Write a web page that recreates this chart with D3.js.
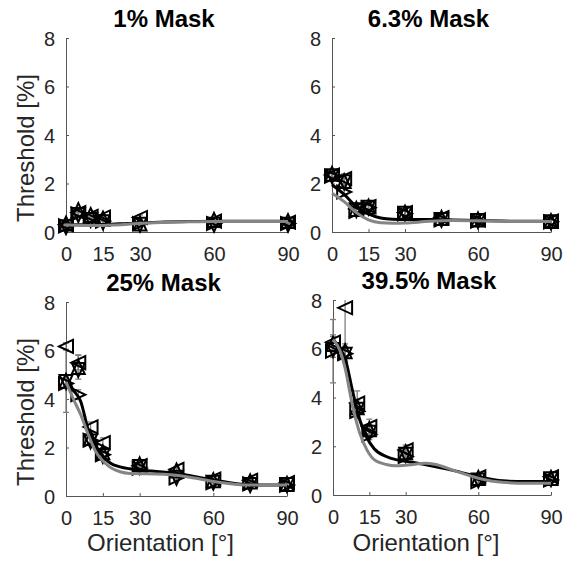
<!DOCTYPE html>
<html><head><meta charset="utf-8">
<script src="https://cdn.jsdelivr.net/npm/d3@7"></script>
<style>
body{margin:0;background:#fff}
text{font-family:"Liberation Sans",Arial,Helvetica,sans-serif}
</style>
</head><body>
<svg id="c" width="563" height="563"></svg>
<script>
// ---------- data ----------
const titles = ["1% Mask", "6.3% Mask", "25% Mask", "39.5% Mask"];
const xTicks = [0, 15, 30, 60, 90];
const yTicks = [0, 2, 4, 6, 8];
const markerTypes = ["left", "right", "up", "down"];

// Panel 1: 1% mask  (rows = observers: left, right, up, down triangles)
const orient1 = [0, 5, 10, 15, 30, 60, 90];
const thr1 = [
  [0.30, 0.80, 0.65, 0.62, 0.60, 0.45, 0.40],
  [0.25, 0.75, 0.55, 0.45, 0.35, 0.35, 0.35],
  [0.35, 0.90, 0.70, 0.55, 0.35, 0.50, 0.45],
  [0.20, 0.70, 0.50, 0.40, 0.30, 0.30, 0.30]
];
const err1 = [
  [0.10, 0.10, 0.10, 0.10, 0.10, 0.10, 0.10],
  [0.10, 0.10, 0.10, 0.10, 0.10, 0.10, 0.10],
  [0.10, 0.10, 0.10, 0.10, 0.10, 0.10, 0.10],
  [0.10, 0.10, 0.10, 0.10, 0.10, 0.10, 0.10]
];
const fitX1 = [0, 5, 10, 15, 20, 25, 30, 40, 50, 60, 70, 80, 90];
const fitBlack1 = [0.30, 0.30, 0.30, 0.31, 0.33, 0.35, 0.38, 0.41, 0.43, 0.44, 0.44, 0.44, 0.44];
const fitGray1 = [0.30, 0.28, 0.27, 0.27, 0.29, 0.32, 0.36, 0.40, 0.42, 0.43, 0.43, 0.43, 0.43];

// Panel 2: 6.3% mask
const orient2 = [0, 5, 10, 15, 30, 45, 60, 90];
const thr2 = [
  [2.35, 2.20, 0.95, 1.05, 0.80, 0.60, 0.50, 0.45],
  [2.30, 1.65, 0.85, 1.00, 0.75, 0.50, 0.45, 0.42],
  [2.40, 2.10, 0.95, 1.05, 0.80, 0.58, 0.52, 0.45],
  [2.30, 2.05, 0.90, 1.00, 0.75, 0.50, 0.45, 0.40]
];
const err2 = [
  [0.15, 0.20, 0.15, 0.10, 0.10, 0.10, 0.10, 0.10],
  [0.15, 0.15, 0.10, 0.10, 0.10, 0.10, 0.10, 0.10],
  [0.10, 0.15, 0.10, 0.10, 0.10, 0.10, 0.10, 0.10],
  [0.10, 0.15, 0.10, 0.10, 0.10, 0.10, 0.10, 0.10]
];
const fitX2 = [0, 5, 10, 15, 20, 25, 30, 40, 50, 60, 70, 80, 90];
const fitBlack2 = [1.95, 1.55, 1.05, 0.75, 0.58, 0.53, 0.52, 0.52, 0.50, 0.47, 0.45, 0.44, 0.44];
const fitGray2 = [1.60, 1.25, 0.80, 0.50, 0.38, 0.36, 0.37, 0.44, 0.47, 0.46, 0.44, 0.43, 0.43];

// Panel 3: 25% mask
const orient3 = [0, 5, 10, 15, 30, 45, 60, 75, 90];
const thr3 = [
  [6.17, 5.50, 2.85, 2.20, 1.25, 1.10, 0.70, 0.65, 0.55],
  [4.64, 4.18, 2.30, 1.70, 1.15, 0.75, 0.55, 0.50, 0.45],
  [4.75, 5.32, 2.40, 1.80, 1.30, 1.05, 0.65, 0.60, 0.50],
  [4.70, 5.20, 2.25, 1.65, 1.20, 0.75, 0.55, 0.45, 0.45]
];
const err3 = [
  [0.15, 0.30, 0.20, 0.20, 0.10, 0.10, 0.10, 0.10, 0.10],
  [0.20, 0.20, 0.20, 0.15, 0.10, 0.10, 0.10, 0.10, 0.10],
  [1.30, 0.50, 0.20, 0.15, 0.10, 0.10, 0.10, 0.10, 0.10],
  [0.20, 0.20, 0.15, 0.15, 0.10, 0.10, 0.10, 0.10, 0.10]
];
const fitX3 = [0, 3, 6, 9, 12, 15, 18, 22, 26, 30, 45, 60, 75, 90];
const fitBlack3 = [4.64, 4.35, 3.90, 2.75, 2.10, 1.65, 1.36, 1.20, 1.12, 1.07, 0.93, 0.66, 0.46, 0.45];
const fitGray3 = [4.70, 4.00, 3.35, 2.55, 1.85, 1.45, 1.18, 1.00, 0.93, 0.92, 0.86, 0.60, 0.45, 0.45];

// Panel 4: 39.5% mask
const orient4 = [0, 5, 10, 15, 30, 60, 90];
const thr4 = [
  [6.27, 7.68, 3.77, 2.81, 1.85, 0.75, 0.75],
  [5.90, 5.80, 3.43, 2.47, 1.58, 0.55, 0.62],
  [6.20, 5.90, 3.60, 2.70, 1.75, 0.70, 0.70],
  [5.95, 5.75, 3.50, 2.55, 1.65, 0.60, 0.65]
];
const err4 = [
  [0.30, 2.00, 0.50, 0.30, 0.20, 0.10, 0.10],
  [1.30, 0.30, 0.30, 0.20, 0.15, 0.10, 0.10],
  [0.30, 0.30, 0.30, 0.20, 0.15, 0.10, 0.10],
  [0.30, 0.30, 0.30, 0.20, 0.15, 0.10, 0.10]
];
const fitX4 = [0, 3, 5, 8, 11, 14, 17, 22, 26, 31, 38, 42, 50, 60, 70, 80, 90];
const fitBlack4 = [6.38, 6.00, 5.60, 4.30, 3.10, 2.35, 1.90, 1.58, 1.45, 1.37, 1.25, 1.17, 1.00, 0.75, 0.58, 0.55, 0.55];
const fitGray4 = [6.38, 5.90, 5.20, 3.70, 2.55, 1.85, 1.45, 1.25, 1.20, 1.23, 1.30, 1.26, 1.00, 0.69, 0.52, 0.48, 0.48];

// ---------- layout ----------
const panels = [
  {t: titles[0], o: orient1, v: thr1, e: err1, fx: fitX1, fb: fitBlack1, fg: fitGray1,
   x0: 66, x1: 288, y0: 232, y1: 38, ylab: true, xlab: false},
  {t: titles[1], o: orient2, v: thr2, e: err2, fx: fitX2, fb: fitBlack2, fg: fitGray2,
   x0: 332, x1: 551, y0: 232, y1: 38, ylab: false, xlab: false},
  {t: titles[2], o: orient3, v: thr3, e: err3, fx: fitX3, fb: fitBlack3, fg: fitGray3,
   x0: 66, x1: 287, y0: 496, y1: 302, ylab: true, xlab: true},
  {t: titles[3], o: orient4, v: thr4, e: err4, fx: fitX4, fb: fitBlack4, fg: fitGray4,
   x0: 333, x1: 551, y0: 495, y1: 300, ylab: false, xlab: true}
];

const svg = d3.select("#c");
const AX = "#555";
const TXT = "#262626";

function triPath(type) {
  const a = 7, b = 6.5;
  switch (type) {
    case "left":  return `M${-a},0L${a},${-b}L${a},${b}Z`;
    case "right": return `M${a},0L${-a},${-b}L${-a},${b}Z`;
    case "up":    return `M0,${-a}L${b},${a}L${-b},${a}Z`;
    default:      return `M0,${a}L${b},${-a}L${-b},${-a}Z`;
  }
}

panels.forEach((p, i) => {
  const x = d3.scaleLinear().domain([0, 90]).range([p.x0, p.x1]);
  const y = d3.scaleLinear().domain([0, 8]).range([p.y0, p.y1]);
  const g = svg.append("g");

  const clipId = "clip" + i;
  svg.append("clipPath").attr("id", clipId).append("rect")
    .attr("x", p.x0 - 20).attr("y", p.y1).attr("width", p.x1 - p.x0 + 40).attr("height", p.y0 - p.y1 + 20);

  // axes
  const xAxis = d3.axisBottom(x).tickValues(xTicks).tickSizeInner(-3).tickSizeOuter(0).tickPadding(10);
  const yAxis = d3.axisLeft(y).tickValues(yTicks).tickSizeInner(-3).tickSizeOuter(0).tickPadding(11);
  const gx = g.append("g").attr("transform", `translate(0,${p.y0})`).call(xAxis);
  const gy = g.append("g").attr("transform", `translate(${p.x0},0)`).call(yAxis);
  [gx, gy].forEach(a => {
    a.select(".domain").attr("stroke", AX).attr("stroke-width", 1);
    a.selectAll(".tick line").attr("stroke", AX);
    a.selectAll(".tick text").attr("fill", TXT).attr("font-size", 20).attr("font-family", null);
  });
  gx.selectAll(".tick text").attr("dy", "0.95em");
  gy.selectAll(".tick text").attr("dy", "0.36em");

  const plot = g.append("g").attr("clip-path", `url(#${clipId})`);

  // error bars
  p.v.forEach((row, k) => {
    row.forEach((val, j) => {
      const er = p.e[k][j];
      const xx = x(p.o[j]);
      plot.append("line").attr("x1", xx).attr("x2", xx)
        .attr("y1", y(val - er)).attr("y2", y(val + er))
        .attr("stroke", "#7f7f7f").attr("stroke-width", 1.3);
      [val - er, val + er].forEach(v => {
        plot.append("line").attr("x1", xx - 3).attr("x2", xx + 3)
          .attr("y1", y(v)).attr("y2", y(v))
          .attr("stroke", "#7f7f7f").attr("stroke-width", 1.3);
      });
    });
  });

  // markers
  p.v.forEach((row, k) => {
    plot.selectAll(null).data(row).enter().append("path")
      .attr("d", triPath(markerTypes[k]))
      .attr("transform", (d, j) => `translate(${x(p.o[j])},${y(d)})`)
      .attr("fill", "none").attr("stroke", "#000").attr("stroke-width", 2)
      .attr("stroke-linejoin", "miter");
  });

  // fits
  const line = d3.line().x((d, j) => x(p.fx[j])).y(d => y(d)).curve(d3.curveMonotoneX);
  plot.append("path").attr("d", line(p.fb)).attr("fill", "none")
    .attr("stroke", "#000").attr("stroke-width", 3);
  plot.append("path").attr("d", line(p.fg)).attr("fill", "none")
    .attr("stroke", "#858585").attr("stroke-width", 3);

  // title
  g.append("text").attr("x", (p.x0 + p.x1) / 2 - 13).attr("y", p.y1 - 11)
    .attr("text-anchor", "middle").attr("font-weight", "bold").attr("font-size", 24)
    .attr("fill", "#000").text(p.t);

  if (p.ylab) {
    g.append("text")
      .attr("transform", `translate(34,${(p.y0 + p.y1) / 2 + 13}) rotate(-90)`)
      .attr("text-anchor", "middle").attr("font-size", 24).attr("fill", TXT)
      .text("Threshold [%]");
  }
  if (p.xlab) {
    g.append("text").attr("x", (p.x0 + p.x1) / 2 - 16).attr("y", 551)
      .attr("text-anchor", "middle").attr("font-size", 24).attr("fill", TXT)
      .text("Orientation [°]");
  }
});
</script>
</body></html>
